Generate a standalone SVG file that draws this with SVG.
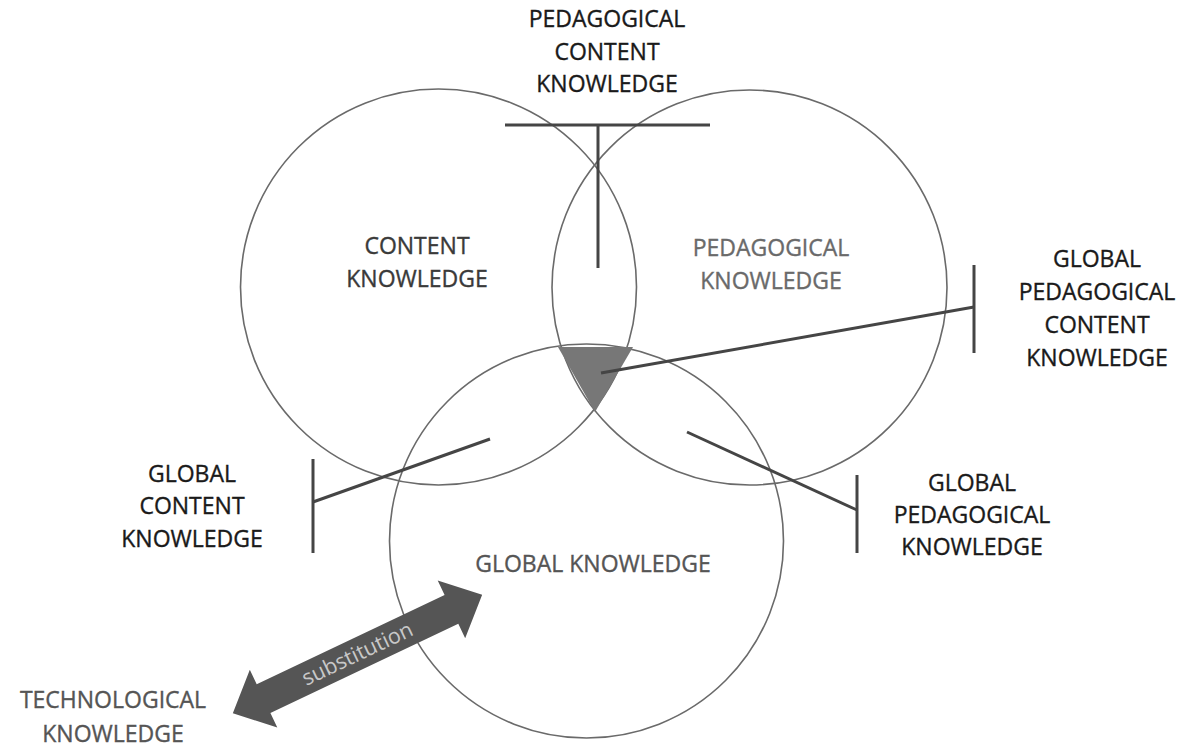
<svg xmlns="http://www.w3.org/2000/svg" width="1196" height="748" viewBox="0 0 1196 748">
<style>
.circ{fill:none;stroke:#6a6a6a;stroke-width:1.6}
.con{fill:none;stroke:#454545;stroke-width:3;stroke-linecap:butt}
.t{font-family:"Open Sans","Noto Sans","DejaVu Sans",sans-serif;font-size:23px;text-anchor:middle;stroke-width:0.35}
.dark{fill:#1a1a1a;stroke:#1a1a1a}
.mid{fill:#3a3a3a;stroke:#3a3a3a}
.grey{fill:#6a6a6a;stroke:#6a6a6a}
.g5{fill:#555;stroke:#555}
</style>
<rect width="1196" height="748" fill="#ffffff"/>
<g id="content-knowledge">
<circle class="circ" cx="438.5" cy="287" r="198"/>
<text class="t mid" x="417" y="254">CONTENT</text>
<text class="t mid" x="417" y="287">KNOWLEDGE</text>
</g>
<g id="pedagogical-knowledge">
<circle class="circ" cx="749.5" cy="287.5" r="197.5"/>
<text class="t grey" x="771" y="256">PEDAGOGICAL</text>
<text class="t grey" x="771" y="289">KNOWLEDGE</text>
</g>
<g id="global-knowledge">
<circle class="circ" cx="586.5" cy="541" r="197"/>
<text class="t g5" x="593" y="572">GLOBAL KNOWLEDGE</text>
</g>
<g id="gpck-core">
<polygon points="558,347 633,347 595,412" fill="#777"/>
</g>
<g id="connectors">
<line class="con" x1="505" y1="125" x2="710" y2="125"/>
<line class="con" x1="598" y1="125" x2="598" y2="268"/>
<line class="con" x1="601" y1="373" x2="974" y2="307"/>
<line class="con" x1="974" y1="265" x2="974" y2="353"/>
<line class="con" x1="687" y1="432" x2="857" y2="510"/>
<line class="con" x1="857" y1="475" x2="857" y2="553"/>
<line class="con" x1="490" y1="439" x2="313" y2="502"/>
<line class="con" x1="313" y1="459" x2="313" y2="553"/>
</g>
<g id="pedagogical-content-knowledge">
<text class="t dark" x="607" y="27">PEDAGOGICAL</text>
<text class="t dark" x="607" y="60">CONTENT</text>
<text class="t dark" x="607" y="92">KNOWLEDGE</text>
</g>
<g id="global-pedagogical-content-knowledge">
<text class="t dark" x="1097" y="267">GLOBAL</text>
<text class="t dark" x="1097" y="300">PEDAGOGICAL</text>
<text class="t dark" x="1097" y="333">CONTENT</text>
<text class="t dark" x="1097" y="366">KNOWLEDGE</text>
</g>
<g id="global-pedagogical-knowledge">
<text class="t dark" x="972" y="491">GLOBAL</text>
<text class="t dark" x="972" y="523">PEDAGOGICAL</text>
<text class="t dark" x="972" y="555">KNOWLEDGE</text>
</g>
<g id="global-content-knowledge">
<text class="t dark" x="192" y="482">GLOBAL</text>
<text class="t dark" x="192" y="514">CONTENT</text>
<text class="t dark" x="192" y="547">KNOWLEDGE</text>
</g>
<g id="technological-knowledge">
<text class="t g5" x="113" y="708">TECHNOLOGICAL</text>
<text class="t g5" x="113" y="742">KNOWLEDGE</text>
</g>
<g id="substitution-arrow" transform="translate(357.5,654) rotate(-25.4)">
<polygon points="-138,0 -104,-32 -104,-16 104,-16 104,-32 138,0 104,32 104,16 -104,16 -104,32" fill="#555"/>
<text x="0" y="7" font-family="'Open Sans','Noto Sans',sans-serif" font-size="21.5" fill="#c8c8c8" text-anchor="middle">substitution</text>
</g>
</svg>
